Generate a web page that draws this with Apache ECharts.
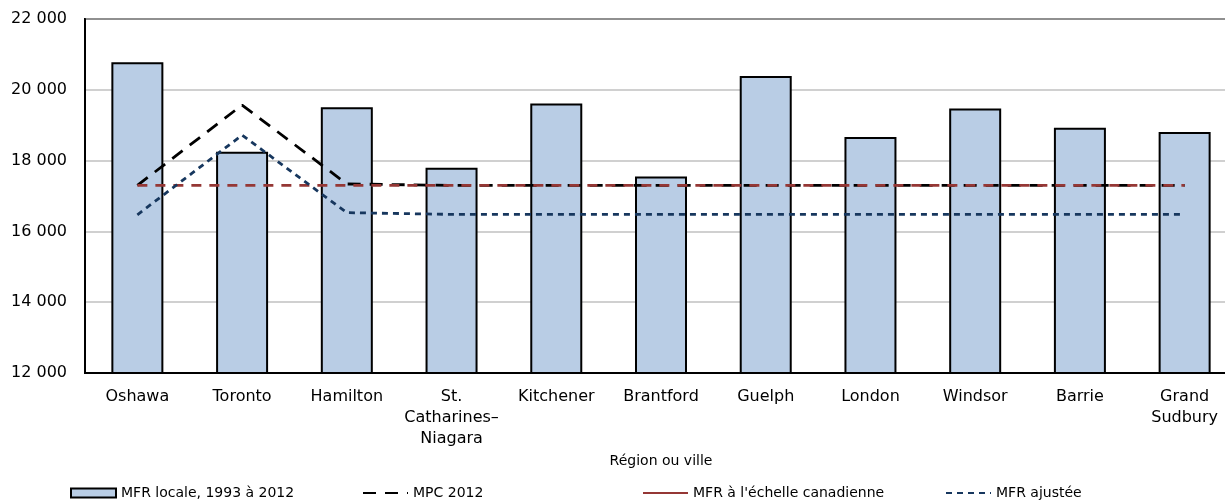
<!DOCTYPE html>
<html>
<head>
<meta charset="utf-8">
<script src="https://cdn.jsdelivr.net/npm/echarts@6/dist/echarts.min.js"></script>
<style>html,body{margin:0;padding:0;background:#fff;overflow:hidden;width:1225px;height:504px;}#c{width:1237px;height:504px;}</style>
</head>
<body>
<div id="c"></div>
<script>
var categories = ['Oshawa','Toronto','Hamilton','St.\nCatharines–\nNiagara','Kitchener','Brantford','Guelph','London','Windsor','Barrie','Grand\nSudbury'];
var mfrLocale = [20780, 18250, 19510, 17800, 19610, 17550, 20390, 18670, 19470, 18930, 18810];
var mpc2012 = [17300, 19570, 17340, 17300, 17300, 17300, 17300, 17300, 17300, 17300, 17300];
var mfrCanada = [17300, 17300, 17300, 17300, 17300, 17300, 17300, 17300, 17300, 17300, 17300];
var mfrAjustee = [16470, 18720, 16530, 16480, 16480, 16480, 16480, 16480, 16480, 16480, 16480];
var seriesNames = ['MFR locale, 1993 à 2012', 'MPC 2012', "MFR à l'échelle canadienne", 'MFR ajustée'];
var yMin = 12000, yMax = 22000, yStep = 2000;

var FONT = 'DejaVu Sans';
function fmt(v){ return String(v).replace(/\B(?=(\d{3})+(?!\d))/g, ' '); }
function leg(name, left, extra){
  var d = {name: name};
  if (extra) for (var k in extra) d[k] = extra[k];
  return {
    data: [d], left: left, top: 486, padding: 0, itemWidth: 45, itemHeight: 9, itemGap: 5,
    textStyle: {fontFamily: FONT, fontSize: 14, color: '#000'},
    selectedMode: false
  };
}
var hideSym = {opacity: 0, color: 'rgba(0,0,0,0)', borderWidth: 0};
var chart = echarts.init(document.getElementById('c'), null, {renderer: 'canvas'});
chart.setOption({
  animation: false,
  backgroundColor: '#fff',
  grid: {left: 85, right: 0, top: 19, bottom: 131, show: true, borderColor: '#000', borderWidth: 2, backgroundColor: 'transparent'},
  legend: [
    leg(seriesNames[0], 70, {icon: 'rect', itemStyle: {color: '#b9cde5', borderColor: '#000', borderWidth: 2}}),
    leg(seriesNames[1], 362, {itemStyle: hideSym}),
    leg(seriesNames[2], 642, {itemStyle: hideSym, lineStyle: {type: 'solid'}}),
    leg(seriesNames[3], 945, {itemStyle: hideSym})
  ],
  xAxis: {
    type: 'category', data: categories,
    name: 'Région ou ville', nameLocation: 'middle', nameGap: 80,
    nameTextStyle: {fontFamily: FONT, fontSize: 14, color: '#000'},
    axisLine: {lineStyle: {color: '#000', width: 2}},
    axisTick: {show: false},
    axisLabel: {fontFamily: FONT, fontSize: 16, color: '#000', margin: 13, lineHeight: 21, interval: 0}
  },
  yAxis: {
    type: 'value', min: yMin, max: yMax, interval: yStep,
    axisLine: {show: true, lineStyle: {color: '#000', width: 2}},
    axisTick: {show: false},
    splitLine: {lineStyle: {color: '#c0c0c0', width: 1.5}},
    axisLabel: {fontFamily: FONT, fontSize: 16, color: '#000', margin: 18, formatter: fmt}
  },
  series: [
    {name: seriesNames[0], type: 'bar', data: mfrLocale, barWidth: 52,
     itemStyle: {color: '#b9cde5', borderColor: '#000', borderWidth: 2}},
    {name: seriesNames[1], type: 'line', data: mpc2012, symbol: 'none',
     lineStyle: {color: '#000', width: 2.8, type: [13, 9]}, itemStyle: {color: '#000'}},
    {name: seriesNames[2], type: 'line', data: mfrCanada, symbol: 'none',
     lineStyle: {color: '#953735', width: 2.8, type: [10, 8]}, itemStyle: {color: '#953735'}},
    {name: seriesNames[3], type: 'line', data: mfrAjustee, symbol: 'none',
     lineStyle: {color: '#17375e', width: 2.8, type: [6, 5]}, itemStyle: {color: '#17375e'}}
  ]
});
</script>
</body>
</html>
